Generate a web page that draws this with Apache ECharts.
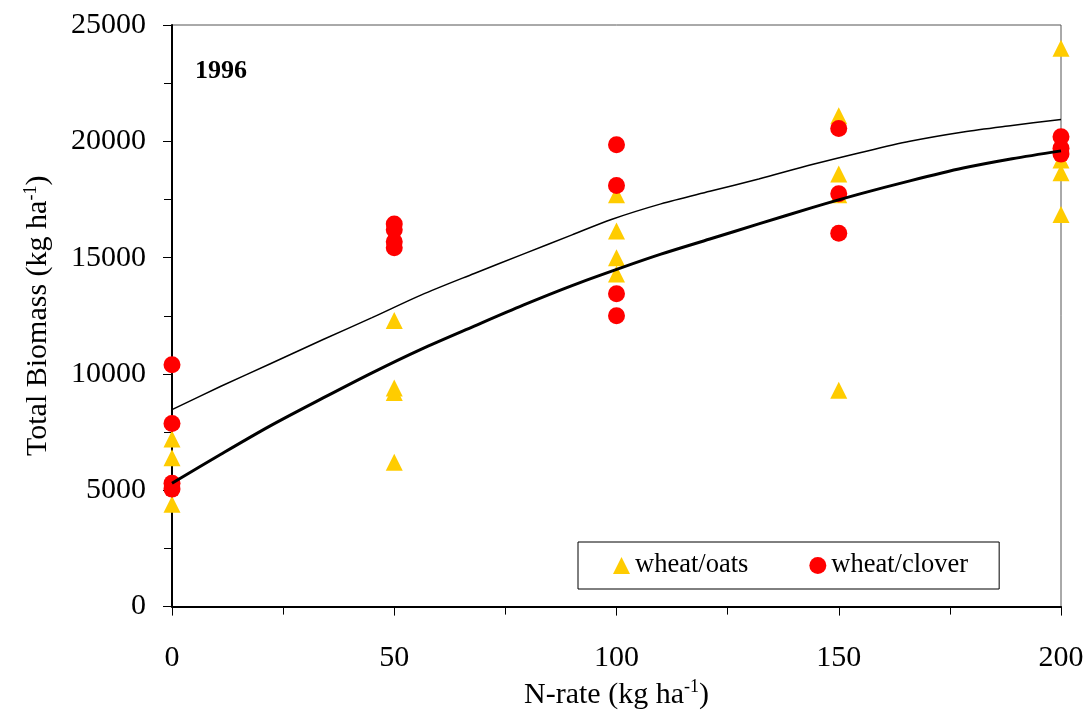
<!DOCTYPE html>
<html>
<head>
<meta charset="utf-8">
<script src="https://cdn.jsdelivr.net/npm/echarts@6/dist/echarts.min.js"></script>
<style>
  html, body { margin: 0; padding: 0; background: #fff; }
  #chart { width: 1089px; height: 715px; }
</style>
</head>
<body>
<div id="chart"></div>
<script>
// N rate on x, total biomass (kg/ha) on y
const oatsRate    = [0, 0, 0, 50, 50, 50, 50, 100, 100, 100, 100, 150, 150, 150, 150, 200, 200, 200, 200]
const oatsBiomass = [7200, 6400, 4400, 12300, 9400, 9200, 6200, 17700, 16150, 15000, 14300, 21100, 18600, 17700, 9300, 24000, 19200, 18650, 16850]

const cloverRate    = [0, 0, 0, 0, 50, 50, 50, 50, 100, 100, 100, 100, 150, 150, 150, 200, 200, 200]
const cloverBiomass = [10400, 7870, 5300, 5050, 16450, 16200, 15680, 15430, 19850, 18100, 13450, 12500, 20550, 17750, 16050, 20200, 19700, 19450]

// fitted curves
const thinFitRate    = [0, 11, 22, 34, 45, 56, 68, 79, 90, 99, 110, 121, 132, 144, 155, 166, 178, 189, 200]
const thinFitBiomass = [8470, 9470, 10430, 11480, 12420, 13390, 14320, 15150, 15980, 16650, 17310, 17850, 18380, 19000, 19520, 20000, 20400, 20680, 20940]

const thickFitRate    = [0, 11, 22, 34, 45, 56, 68, 79, 90, 101, 110, 121, 132, 144, 155, 166, 178, 189, 200]
const thickFitBiomass = [5300, 6550, 7760, 8970, 10050, 11060, 12060, 12960, 13800, 14560, 15150, 15800, 16450, 17150, 17750, 18300, 18850, 19250, 19590]

const xTicks = [0, 50, 100, 150, 200]
const yTicks = [0, 5000, 10000, 15000, 20000, 25000]

const zip = (xs, ys) => xs.map((x, i) => [x, ys[i]])

const serif = '"Liberation Serif", "DejaVu Serif", serif'

const chart = echarts.init(document.getElementById('chart'))

const axisCommon = {
  type: 'value',
  splitLine: { show: false },
  axisLine: { show: true, onZero: false, lineStyle: { color: '#000', width: 2 } },
  axisTick: { show: true, inside: false, length: 9, lineStyle: { color: '#000', width: 1 } },
  minorTick: { show: true, splitNumber: 2, length: 8, lineStyle: { color: '#000', width: 1 } },
  minorSplitLine: { show: false },
  nameTextStyle: {
    fontFamily: serif, fontSize: 30, color: '#000',
    rich: {
      sup: { fontFamily: serif, fontSize: 18, color: '#000', padding: [0, 0, 15, 0] }
    }
  }
}

const option = {
  backgroundColor: '#fff',
  animation: false,
  title: {
    text: '1996',
    left: 190,
    top: 53,
    textStyle: { fontFamily: serif, fontSize: 26, fontWeight: 'bold', color: '#000' }
  },
  grid: {
    left: 172,
    right: 28,
    top: 25,
    bottom: 105,
    show: true,
    borderColor: '#555',
    borderWidth: 1,
    backgroundColor: 'transparent'
  },
  legend: {
    left: 578,
    top: 542,
    orient: 'horizontal',
    data: [
      { name: 'wheat/oats', icon: 'triangle' },
      { name: 'wheat/clover', icon: 'circle' }
    ],
    itemWidth: 17,
    itemHeight: 17,
    itemGap: 61,
    padding: [10, 31, 10, 35],
    borderColor: '#000',
    borderWidth: 1,
    backgroundColor: '#fff',
    textStyle: { fontFamily: serif, fontSize: 26.5, color: '#000' }
  },
  xAxis: {
    ...axisCommon,
    min: xTicks[0],
    max: xTicks[xTicks.length - 1],
    interval: 50,
    name: 'N-rate (kg ha{sup|-1})',
    nameLocation: 'middle',
    nameGap: 58,
    axisLabel: { fontFamily: serif, fontSize: 30, color: '#000', margin: 37, formatter: v => String(v) }
  },
  yAxis: {
    ...axisCommon,
    min: yTicks[0],
    max: yTicks[yTicks.length - 1],
    interval: 5000,
    name: 'Total Biomass (kg ha{sup|-1})',
    nameLocation: 'middle',
    nameGap: 117,
    axisLabel: { fontFamily: serif, fontSize: 30, color: '#000', margin: 26, padding: [8, 0, 0, 0], formatter: v => String(v) }
  },
  series: [
    {
      name: 'wheat/oats',
      type: 'scatter',
      symbol: 'triangle',
      symbolSize: 17,
      itemStyle: { color: '#FFCC00', opacity: 1 },
      data: zip(oatsRate, oatsBiomass)
    },
    {
      name: 'wheat/clover',
      type: 'scatter',
      symbol: 'circle',
      symbolSize: 17,
      itemStyle: { color: '#FF0000', opacity: 1 },
      data: zip(cloverRate, cloverBiomass)
    },
    {
      name: 'fit upper',
      type: 'line',
      showSymbol: false,
      symbol: 'none',
      smooth: 0.3,
      lineStyle: { color: '#000', width: 1.5 },
      data: zip(thinFitRate, thinFitBiomass)
    },
    {
      name: 'fit lower',
      type: 'line',
      showSymbol: false,
      symbol: 'none',
      smooth: 0.3,
      lineStyle: { color: '#000', width: 3 },
      data: zip(thickFitRate, thickFitBiomass)
    }
  ]
}

chart.setOption(option)
</script>
</body>
</html>
